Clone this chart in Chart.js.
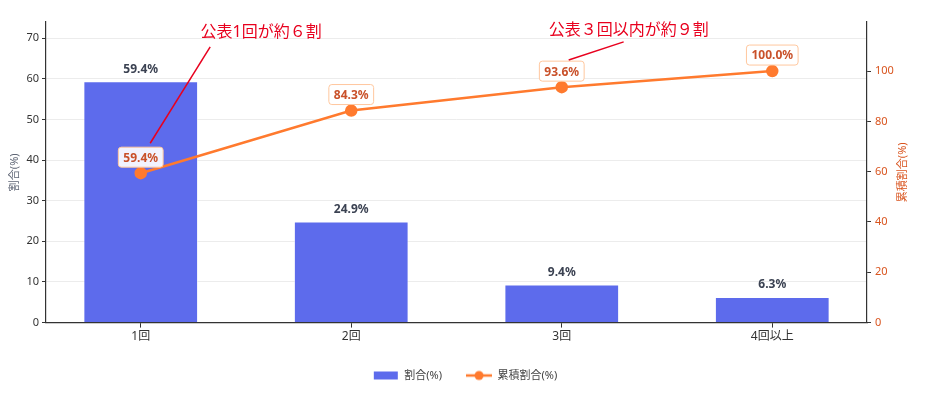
<!DOCTYPE html>
<html>
<head>
<meta charset="utf-8">
<script src="https://cdn.jsdelivr.net/npm/chart.js@4"></script>
<style>
  html, body { margin: 0; padding: 0; background: #fff; }
  #wrap { width: 930px; height: 393px; }
</style>
</head>
<body>
<div id="wrap"><canvas id="chart"></canvas></div>
<script>
// data
const categories = ["1回", "2回", "3回", "4回以上"];
const shares = [59.4, 24.9, 9.4, 6.3];
const cumulative = [59.4, 84.3, 93.6, 100.0];
const leftTicks = [0, 10, 20, 30, 40, 50, 60, 70];
const rightTicks = [0, 20, 40, 60, 80, 100];
// annotations: [from x, from y1], [to x, to y1], [text x, text y1]
const notes = [
  { text: "公表1回が約６割", from: [0.045, 71.3], to: [0.33, 109.6], at: [0.572, 115.5] },
  { text: "公表３回以内が約９割", from: [2.033, 104.4], to: [2.294, 111.6], at: [2.318, 116.3] }
];

const BAR = "#5D6BEC";
const ORANGE = "#FF7A2E";
const FONT = "'Noto Sans', 'Noto Sans CJK JP', sans-serif";

function legendIcon(kind) {
  const c = document.createElement("canvas");
  c.width = 26; c.height = 12;
  const g = c.getContext("2d");
  if (kind === "bar") {
    g.fillStyle = BAR;
    g.fillRect(1, 2, 24, 8);
  } else {
    g.strokeStyle = ORANGE; g.lineWidth = 2.5;
    g.beginPath(); g.moveTo(0, 6); g.lineTo(26, 6); g.stroke();
    g.fillStyle = ORANGE;
    g.beginPath(); g.arc(13, 6, 4.5, 0, Math.PI * 2); g.fill();
  }
  return c;
}

const labelPlugin = {
  id: "labels",
  afterDatasetsDraw(chart) {
    const ctx = chart.ctx;
    const xs = chart.scales.x, y = chart.scales.y, y1 = chart.scales.y1;
    ctx.save();
    // bar values
    ctx.font = "bold 12px " + FONT;
    ctx.fillStyle = "#3b4252";
    ctx.textAlign = "center";
    ctx.textBaseline = "bottom";
    shares.forEach((v, i) => {
      ctx.fillText(v.toFixed(1) + "%", xs.getPixelForValue(i), y.getPixelForValue(v) - 6);
    });
    // cumulative boxes
    cumulative.forEach((v, i) => {
      const px = xs.getPixelForValue(i), py = y1.getPixelForValue(v) - 16;
      const t = v.toFixed(1) + "%";
      const w = ctx.measureText(t).width + 10, h = 20;
      ctx.beginPath();
      ctx.roundRect(px - w / 2, py - h / 2, w, h, 3);
      ctx.fillStyle = "rgba(255,255,255,0.92)";
      ctx.fill();
      ctx.strokeStyle = "#FFC79E";
      ctx.lineWidth = 1;
      ctx.stroke();
      ctx.fillStyle = "#C9512A";
      ctx.textBaseline = "middle";
      ctx.fillText(t, px, py + 1);
    });
    // annotations
    ctx.strokeStyle = "#E8001E";
    ctx.fillStyle = "#E8001E";
    ctx.lineWidth = 1.5;
    ctx.font = "16px " + FONT;
    notes.forEach(n => {
      ctx.beginPath();
      ctx.moveTo(xs.getPixelForValue(n.from[0]), y1.getPixelForValue(n.from[1]));
      ctx.lineTo(xs.getPixelForValue(n.to[0]), y1.getPixelForValue(n.to[1]));
      ctx.stroke();
      ctx.textBaseline = "middle";
      ctx.fillText(n.text, xs.getPixelForValue(n.at[0]), y1.getPixelForValue(n.at[1]));
    });
    // axis titles
    const mid = (chart.chartArea.top + chart.chartArea.bottom) / 2;
    ctx.font = "11px " + FONT;
    ctx.translate(15, mid);
    ctx.rotate(-Math.PI / 2);
    ctx.fillStyle = "#5f6675";
    ctx.fillText("割合(%)", 0, 0);
    ctx.rotate(Math.PI / 2);
    ctx.translate(-15, -mid);
    ctx.translate(903, mid);
    ctx.rotate(-Math.PI / 2);
    ctx.fillStyle = "#D9541E";
    ctx.fillText("累積割合(%)", 0, 0);
    ctx.restore();
  }
};

new Chart(document.getElementById("chart"), {
  data: {
    datasets: [
      {
        type: "bar",
        label: "割合(%)",
        data: shares.map((v, i) => ({ x: i, y: v })),
        backgroundColor: BAR,
        borderColor: "rgba(255,255,255,0.5)",
        borderWidth: 1,
        barPercentage: 0.545,
        categoryPercentage: 1,
        yAxisID: "y",
        order: 2
      },
      {
        type: "line",
        label: "累積割合(%)",
        data: cumulative.map((v, i) => ({ x: i, y: v })),
        borderColor: ORANGE,
        backgroundColor: ORANGE,
        borderWidth: 2.5,
        pointRadius: 5,
        pointHoverRadius: 5,
        yAxisID: "y1",
        order: 1
      }
    ]
  },
  options: {
    responsive: true,
    maintainAspectRatio: false,
    animation: false,
    layout: { padding: { top: 22, bottom: 2 } },
    plugins: {
      tooltip: { enabled: false },
      legend: {
        position: "bottom",
        labels: {
          usePointStyle: true,
          pointStyleWidth: 26,
          boxHeight: 12,
          padding: 24,
          font: { size: 11, family: FONT },
          color: "#444",
          generateLabels: chart => chart.data.datasets.map((d, i) => ({
            text: d.label,
            pointStyle: legendIcon(i === 0 ? "bar" : "line"),
            fillStyle: "transparent",
            strokeStyle: "transparent",
            lineWidth: 0,
            datasetIndex: i,
            fontColor: "#444"
          }))
        }
      }
    },
    scales: {
      x: {
        type: "linear",
        min: -0.45,
        max: 3.45,
        offset: false,
        afterBuildTicks: s => { s.ticks = categories.map((c, i) => ({ value: i })); },
        ticks: {
          callback: v => categories[v],
          font: { size: 12, family: FONT },
          color: "#333",
          padding: 2
        },
        grid: { offset: false, drawOnChartArea: false, tickLength: 5, color: "#333" },
        border: { color: "#333", width: 1.2 }
      },
      y: {
        position: "left",
        min: 0,
        max: 74,
        afterBuildTicks: s => { s.ticks = leftTicks.map(v => ({ value: v })); },
        afterFit: s => { s.width = 46; },
        ticks: { font: { size: 11, family: FONT }, color: "#333", padding: 3 },
        grid: { color: "#ececec", tickColor: "#333", tickLength: 4 },
        border: { color: "#333", width: 1.2 }
      },
      y1: {
        position: "right",
        min: 0,
        max: 119.5,
        afterBuildTicks: s => { s.ticks = rightTicks.map(v => ({ value: v })); },
        afterFit: s => { s.width = 63; },
        ticks: { font: { size: 11, family: FONT }, color: "#D9541E", padding: 4 },
        grid: { drawOnChartArea: false, tickColor: "#333", tickLength: 4 },
        border: { color: "#333", width: 1.2 }
      }
    }
  },
  plugins: [labelPlugin]
});
</script>
</body>
</html>
